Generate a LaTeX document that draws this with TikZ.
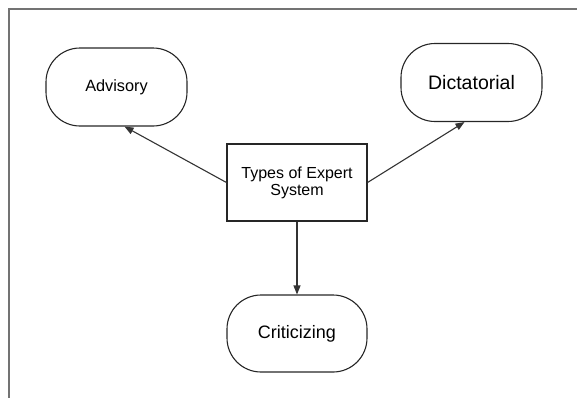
\documentclass[tikz,border=0pt]{standalone}
\usepackage{fontspec}
\setmainfont{Liberation Sans}
\usetikzlibrary{arrows.meta}
\begin{document}
\begin{tikzpicture}[x=1bp,y=-1bp,
  rbox/.style={draw=black!85, line width=1.1bp, rounded corners=34bp, minimum width=141bp, minimum height=78bp, inner sep=0pt},
  sbox/.style={draw=black!85, line width=1.1bp, minimum width=140bp, minimum height=77bp, inner sep=0pt, align=center},
  conn/.style={draw=black!80, line width=1.1bp, -{Triangle[length=9bp,width=7bp]}},
  frame/.style={draw=black!55, line width=1.5bp}]
\useasboundingbox (0,0) rectangle (577,397);
\draw[frame] (9,398) -- (9,9) -- (578,9);
\node[rbox, font=\fontsize{16.3bp}{19bp}\selectfont] (adv) at (116.5,87) {Advisory};
\node[rbox, font=\fontsize{19.5bp}{22bp}\selectfont] (dic) at (471.5,82.5) {Dictatorial};
\node[sbox, font=\fontsize{16bp}{17bp}\selectfont] (ctr) at (297,182.5) {Types of Expert\\System};
\node[rbox, minimum width=140bp, minimum height=77bp, font=\fontsize{18bp}{21bp}\selectfont] (crit) at (297,333.5) {Criticizing};
\draw[conn] (ctr.west) -- ([xshift=8bp]adv.south);
\draw[conn] (ctr.east) -- ([xshift=-7bp]dic.south);
\draw[conn] (ctr.south) -- (crit.north);
\end{tikzpicture}
\end{document}
